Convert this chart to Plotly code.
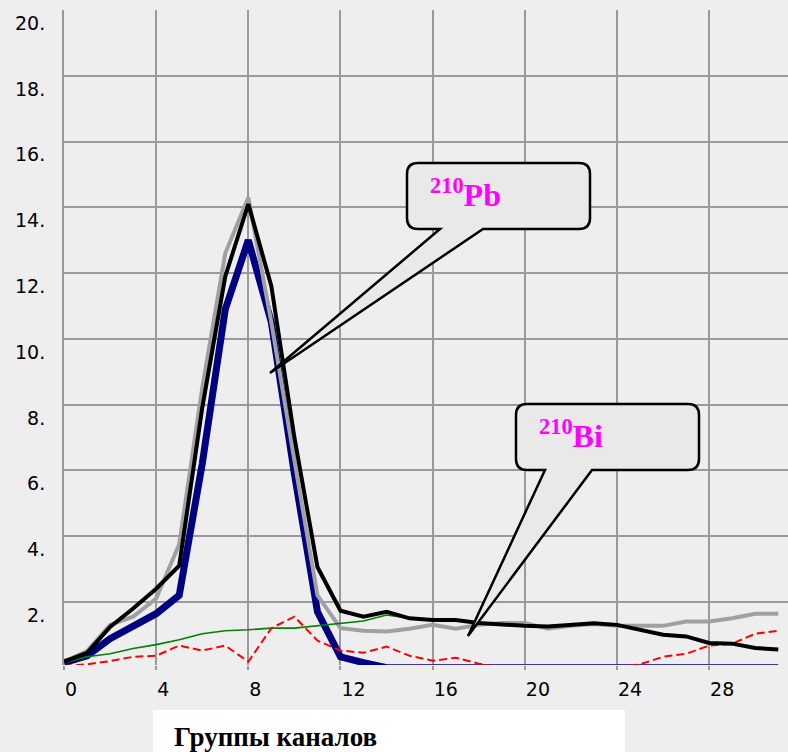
import plotly.graph_objects as go

channels = list(range(32))
black = [0.18, 0.45, 1.24, 1.8, 2.4, 3.1, 7.9, 11.9, 14.1, 11.6, 7.0, 3.06, 1.73, 1.55, 1.7, 1.5,
         1.45, 1.45, 1.36, 1.3, 1.27, 1.25, 1.3, 1.35, 1.3, 1.15, 1.0, 0.95, 0.75, 0.73, 0.6, 0.55]
gray = [0.18, 0.5, 1.3, 1.55, 2.1, 3.75, 8.5, 12.6, 14.3, 10.5, 6.3, 2.2, 1.2, 1.12, 1.1, 1.18,
        1.3, 1.18, 1.3, 1.36, 1.36, 1.18, 1.27, 1.33, 1.27, 1.27, 1.27, 1.4, 1.4, 1.5, 1.64, 1.64]
blue = [0.15, 0.36, 0.88, 1.24, 1.64, 2.2, 6.2, 10.9, 13.0, 10.5, 5.9, 1.7, 0.33, 0.15, 0.0, 0.0,
        0.0, 0.0, 0.0, 0.0, 0.0, 0.0, 0.0, 0.0, 0.0, 0.0, 0.0, 0.0, 0.0, 0.0, 0.0, 0.0]
green = [0.15, 0.33, 0.42, 0.58, 0.7, 0.85, 1.03, 1.12, 1.15, 1.2, 1.2, 1.27, 1.36, 1.42, 1.6, 1.5,
         1.45, 1.45, 1.36, 1.3, 1.27, 1.25, 1.3, 1.35, 1.3, 1.15, 1.0, 0.95, 0.75, 0.73, 0.6, 0.55]
red = [0.05, 0.1, 0.2, 0.33, 0.36, 0.67, 0.52, 0.67, 0.18, 1.2, 1.55, 0.82, 0.52, 0.45, 0.64, 0.36,
       0.21, 0.3, 0.12, 0.0, 0.0, 0.0, 0.0, 0.0, 0.0, 0.1, 0.33, 0.42, 0.67, 0.73, 1.03, 1.12]

ytick_vals = [2, 4, 6, 8, 10, 12, 14, 16, 18, 20]
ytick_text = ["2.", "4.", "6.", "8.", "10.", "12.", "14.", "16.", "18.", "20."]
xtick_vals = [0, 4, 8, 12, 16, 20, 24, 28]
xtick_text = ["0", "4", "8", "12", "16", "20", "24", "28"]
x_title = "Группы каналов"
label_pb = "<sup>210</sup>Pb"
label_bi = "<sup>210</sup>Bi"

W, H = 788, 752
L, R, T, B = 64, 0, 10, 87
PW, PH = W - L - R, H - T - B


def px(xp):
    return (xp - L) / PW


def py(yp):
    return (H - B - yp) / PH


def bubble(x0, y0, x1, y1, r, b1, b2, tx, ty):
    d = f"M {px(x0 + r)},{py(y0)} L {px(x1 - r)},{py(y0)} "
    d += f"Q {px(x1)},{py(y0)} {px(x1)},{py(y0 + r)} "
    d += f"L {px(x1)},{py(y1 - r)} Q {px(x1)},{py(y1)} {px(x1 - r)},{py(y1)} "
    d += f"L {px(b2)},{py(y1)} L {px(tx)},{py(ty)} L {px(b1)},{py(y1)} "
    d += f"L {px(x0 + r)},{py(y1)} Q {px(x0)},{py(y1)} {px(x0)},{py(y1 - r)} "
    d += f"L {px(x0)},{py(y0 + r)} Q {px(x0)},{py(y0)} {px(x0 + r)},{py(y0)} Z"
    return dict(type="path", xref="paper", yref="paper", path=d,
                fillcolor="#e9e9e9", line=dict(color="black", width=2.5), layer="above")


fig = go.Figure()
fig.add_trace(go.Scatter(x=channels, y=blue, mode="lines", line=dict(color="#000080", width=7)))
fig.add_trace(go.Scatter(x=channels, y=gray, mode="lines", line=dict(color="#a0a0a0", width=4)))
fig.add_trace(go.Scatter(x=channels, y=green, mode="lines", line=dict(color="#008000", width=1.6)))
fig.add_trace(go.Scatter(x=channels, y=red, mode="lines",
                         line=dict(color="#ff0000", width=2, dash="8px,4px")))
fig.add_trace(go.Scatter(x=channels, y=black, mode="lines", line=dict(color="#000000", width=4)))

shapes = [
    bubble(407, 163, 590, 229, 11, 440, 483, 270, 373),
    bubble(516, 404, 699, 470, 11, 545, 592, 468, 636),
    dict(type="rect", xref="paper", yref="paper", x0=px(153), x1=px(625), y0=py(710), y1=py(760),
         fillcolor="white", line=dict(width=0), layer="above"),
]

annotations = [
    dict(text=label_pb, xref="paper", yref="paper", x=px(428), y=py(193), xanchor="left",
         yanchor="middle", showarrow=False,
         font=dict(family="Liberation Serif", size=32, color="#ff00ff", weight="bold")),
    dict(text=label_bi, xref="paper", yref="paper", x=px(537), y=py(434), xanchor="left",
         yanchor="middle", showarrow=False,
         font=dict(family="Liberation Serif", size=32, color="#ff00ff", weight="bold")),
    dict(text=x_title, xref="paper", yref="paper", x=px(172), y=py(737), xanchor="left",
         yanchor="middle", showarrow=False,
         font=dict(family="Liberation Serif", size=27, color="black", weight="bold")),
]

fig.update_layout(
    width=W, height=H, autosize=False,
    margin=dict(l=L, r=R, t=T, b=B, pad=0),
    paper_bgcolor="#eeeeee", plot_bgcolor="#eeeeee",
    showlegend=False,
    shapes=shapes, annotations=annotations,
    xaxis=dict(range=[0, PW / 23.04], tickvals=xtick_vals, ticktext=xtick_text,
               showgrid=True, gridcolor="#9a9a9a", gridwidth=2, zeroline=False,
               ticks="outside", ticklen=4, tickwidth=2, tickcolor="#9a9a9a",
               ticklabelposition="outside right", ticklabelstandoff=7,
               tickfont=dict(family="DejaVu Sans", size=19, color="black"),
               showline=False, fixedrange=True),
    yaxis=dict(range=[0.08, 20], tickvals=ytick_vals, ticktext=ytick_text,
               showgrid=True, gridcolor="#9a9a9a", gridwidth=2, zeroline=False,
               ticks="", ticklabelposition="outside bottom", ticklabelstandoff=13,
               tickfont=dict(family="DejaVu Sans", size=19, color="black"),
               showline=True, linecolor="#9a9a9a", linewidth=2, fixedrange=True),
)

fig.write_html("out.html")
